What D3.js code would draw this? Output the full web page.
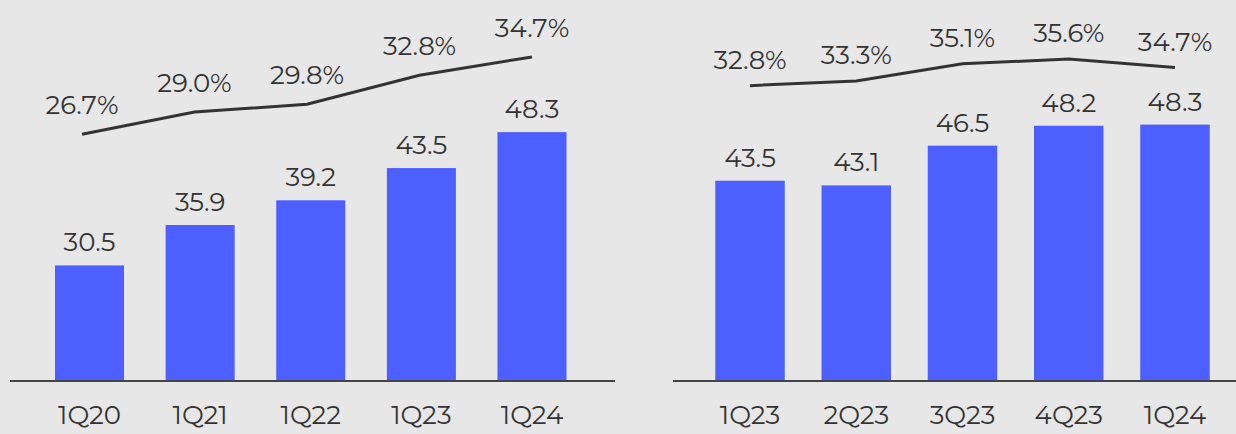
<!DOCTYPE html>
<meta charset="utf-8">
<style>
  html, body { margin: 0; padding: 0; background: #e7e7e7; }
  svg { display: block; }
  text { font-family: Montserrat, Lato, "Open Sans", sans-serif; fill: #333; }
</style>
<body>
<script src="https://d3js.org/d3.v7.min.js"></script>
<script>
// chart data
var leftCats = ["1Q20", "1Q21", "1Q22", "1Q23", "1Q24"];
var leftBars = [30.5, 35.9, 39.2, 43.5, 48.3];
var leftPct = [26.7, 29.0, 29.8, 32.8, 34.7];

var rightCats = ["1Q23", "2Q23", "3Q23", "4Q23", "1Q24"];
var rightBars = [43.5, 43.1, 46.5, 48.2, 48.3];
var rightPct = [32.8, 33.3, 35.1, 35.6, 34.7];

var width = 1236, height = 434,
    baseY = 381,
    fontSize = 26;

var svg = d3.select("body").append("svg")
  .attr("width", width)
  .attr("height", height);

// panel layout (positions only, data comes from the arrays above)
var panels = [
  {cats: leftCats, bars: leftBars, pct: leftPct,
   band: [34.2, 587.3], pad: 0.376, lineX: [82, 532], base: [10, 615],
   barDomain: [15.07, 50], barTop: 119.4,
   pctDomain: [26.7, 34.7], pctRange: [134.3, 56.9], pctDy: -20},
  {cats: rightCats, bars: rightBars, pct: rightPct,
   band: [696.9, 1228.1], pad: 0.346, lineX: [750, 1175], base: [673, 1236],
   barDomain: [26.38, 50], barTop: 104.7,
   pctDomain: [32.8, 35.6], pctRange: [85.65, 59.05], pctDy: -17}
];

panels.forEach(drawPanel);

function drawPanel(p){
  var g = svg.append("g");

  var x = d3.scaleBand().domain(p.cats).range(p.band)
    .paddingInner(p.pad).paddingOuter(p.pad / 2);
  var y = d3.scaleLinear().domain(p.barDomain).range([baseY, p.barTop]);
  var lx = d3.scalePoint().domain(p.cats).range(p.lineX);
  var ly = d3.scaleLinear().domain(p.pctDomain).range(p.pctRange);

  var rows = p.cats.map(function(c, i){
    return {cat: c, bar: p.bars[i], pct: p.pct[i]};
  });

  // bars
  g.selectAll("rect.bar").data(rows).enter().append("rect")
    .attr("class", "bar")
    .attr("x", function(d){ return x(d.cat); })
    .attr("width", x.bandwidth())
    .attr("y", function(d){ return y(d.bar); })
    .attr("height", function(d){ return baseY - y(d.bar); })
    .attr("fill", "#4d5fff");

  // bar value labels
  g.selectAll("text.val").data(rows).enter().append("text")
    .attr("class", "val")
    .attr("x", function(d){ return x(d.cat) + x.bandwidth() / 2; })
    .attr("y", function(d){ return y(d.bar) - 14; })
    .attr("text-anchor", "middle")
    .style("font-size", fontSize + "px")
    .text(function(d){ return d.bar.toFixed(1); });

  // margin line
  var line = d3.line()
    .x(function(d){ return lx(d.cat); })
    .y(function(d){ return ly(d.pct); });
  g.append("path").datum(rows)
    .attr("d", line)
    .attr("fill", "none")
    .attr("stroke", "#333")
    .attr("stroke-width", 3);

  g.selectAll("text.pct").data(rows).enter().append("text")
    .attr("class", "pct")
    .attr("x", function(d){ return lx(d.cat); })
    .attr("y", function(d){ return ly(d.pct) + p.pctDy; })
    .attr("text-anchor", "middle")
    .style("font-size", fontSize + "px")
    .text(function(d){ return d.pct.toFixed(1) + "%"; });

  // baseline
  g.append("line")
    .attr("x1", p.base[0]).attr("x2", p.base[1])
    .attr("y1", baseY).attr("y2", baseY)
    .attr("stroke", "#444").attr("stroke-width", 2);

  // category axis
  var axis = g.append("g")
    .attr("transform", "translate(0," + baseY + ")")
    .call(d3.axisBottom(x).tickSize(0).tickPadding(25));
  axis.select(".domain").remove();
  axis.selectAll("text")
    .style("font-size", fontSize + "px")
    .style("font-family", null)
    .attr("fill", null);
  axis.attr("font-family", null).attr("font-size", null);
}
</script>
</body>
